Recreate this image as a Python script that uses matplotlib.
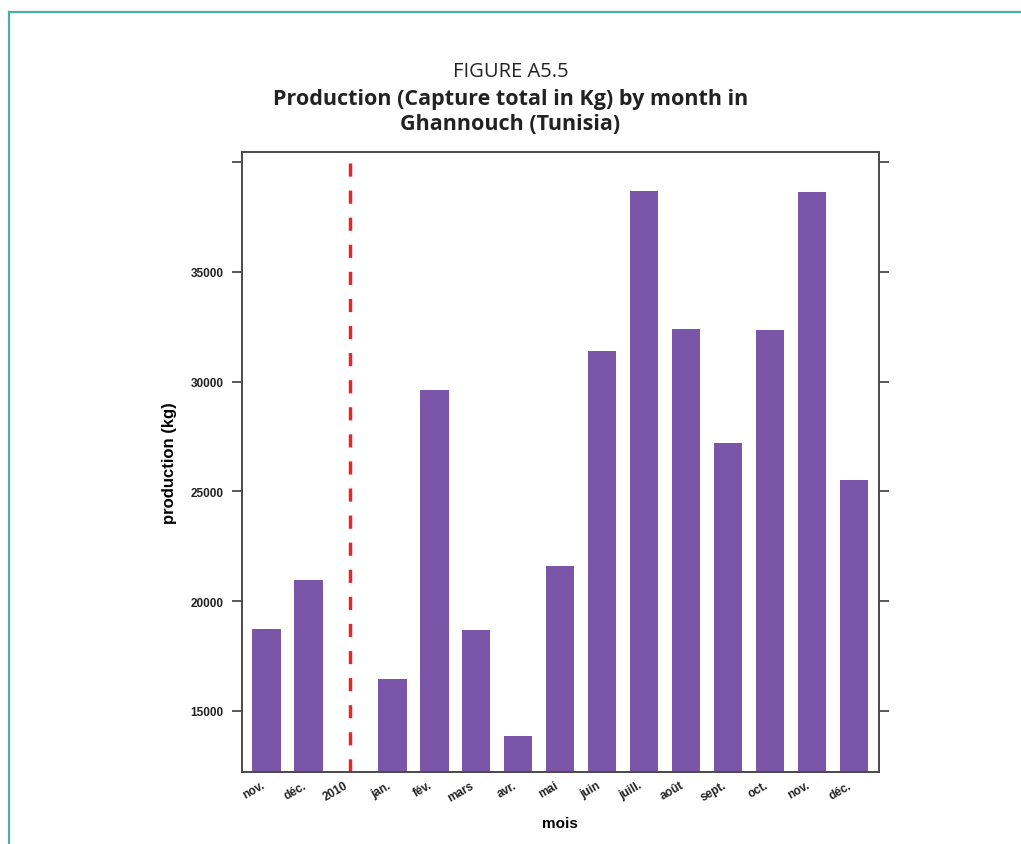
import numpy as np
import matplotlib
matplotlib.use("Agg")
import matplotlib.pyplot as plt
from matplotlib.lines import Line2D

# Monthly production in Ghannouch (kg); "2010" marks the year break
months = ["nov.", "déc.", "2010", "jan.", "fév.", "mars", "avr.", "mai",
          "juin", "juill.", "août", "sept.", "oct.", "nov.", "déc."]
production = [18750, 20950, None, 16450, 29600, 18700, 13850, 21600,
              31400, 38700, 32400, 27200, 32350, 38650, 25500]
year_break = "2010"
y_ticks = [15000, 20000, 25000, 30000, 35000, 40000]
y_tick_labels = ["15000", "20000", "25000", "30000", "35000", ""]

BAR_COLOR = "#7B56A8"
LINE_COLOR = "#E5262D"
FRAME_COLOR = "#4BAEA7"
AXIS_COLOR = "#4a4a4a"

fig = plt.figure(figsize=(10.21, 8.45), dpi=100)

# Page frame (top and left rules)
fig.add_artist(Line2D([9 / 1021, 1.0], [1 - 13 / 845, 1 - 13 / 845],
                      color=FRAME_COLOR, lw=1.6, transform=fig.transFigure))
fig.add_artist(Line2D([9 / 1021, 9 / 1021], [0.0, 1 - 13 / 845],
                      color=FRAME_COLOR, lw=1.6, transform=fig.transFigure))

# Titles
fig.text(0.5, 1 - 72 / 845, "FIGURE A5.5", ha="center", va="center",
         fontsize=14.5, family="Open Sans", color="#222222")
fig.text(0.5, 1 - 99 / 845, "Production (Capture total in Kg) by month in",
         ha="center", va="center", fontsize=15.5, family="Open Sans",
         fontweight="bold", color="#222222")
fig.text(0.5, 1 - 124 / 845, "Ghannouch (Tunisia)", ha="center", va="center",
         fontsize=15.5, family="Open Sans", fontweight="bold", color="#222222")

ax = fig.add_axes([241.7 / 1021, 1 - 773 / 845, (879 - 241.7) / 1021,
                   (773 - 153.3) / 845])

x = np.arange(len(months))
vals = np.array([np.nan if v is None else v for v in production], dtype=float)
mask = ~np.isnan(vals)
ax.bar(x[mask], vals[mask], width=0.68, color=BAR_COLOR, edgecolor="none")

# Dashed separator at the start of the new year
ax.axvline(months.index(year_break), color=LINE_COLOR, lw=2.5,
           linestyle=(0, (3.8, 4.0)))

ax.set_xlim(-0.59, len(months) - 1 + 0.6)
ax.set_ylim(12220, 40440)

ax.set_yticks(y_ticks)
ax.set_yticklabels(y_tick_labels)
ax.set_xticks(x)
ax.set_xticklabels(months, rotation=30, ha="right", va="top")

for lab in ax.get_xticklabels() + ax.get_yticklabels():
    lab.set_fontfamily("Liberation Sans")
    lab.set_fontweight("bold")
    lab.set_fontsize(8.5)
    lab.set_color("#222222")

ax.tick_params(axis="y", which="both", left=True, right=True, direction="out",
               length=7, width=1.3, color=AXIS_COLOR, pad=6)
ax.tick_params(axis="x", length=0, pad=5)

for sp in ax.spines.values():
    sp.set_color(AXIS_COLOR)
    sp.set_linewidth(1.4)

ax.set_xlabel("mois", fontsize=11, fontweight="bold", family="Liberation Sans",
              labelpad=9)
ax.set_ylabel("production (kg)", fontsize=12, fontweight="bold",
              family="Liberation Sans", labelpad=10)

fig.savefig("out.png", dpi=100)
